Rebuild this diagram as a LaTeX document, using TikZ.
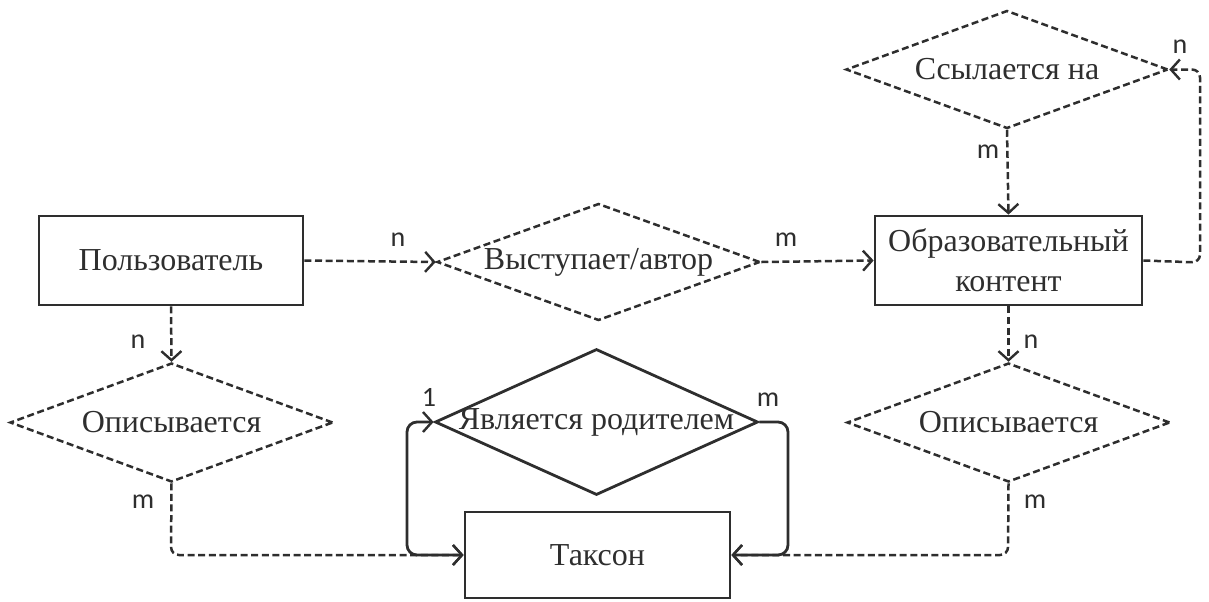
\documentclass[tikz,border=0pt]{standalone}
\usepackage{fontspec}
\setmainfont{Liberation Serif}
\newfontfamily\lblfont{Carlito}
\usetikzlibrary{shapes.geometric,arrows.meta}
\definecolor{ink}{HTML}{2E2E2E}
\tikzset{
  barb/.tip={Straight Barb[length=4.5pt,width=10pt,line width=1.2pt]},
  entity/.style={draw=ink, line width=1.4pt, rectangle, inner sep=0pt, text=ink,
    font=\fontsize{16}{20}\selectfont, align=center},
  rel/.style={draw=ink, line width=1.25pt, dash pattern=on 3.5pt off 1.8pt, diamond, inner sep=0pt},
  solidrel/.style={draw=ink, line width=1.4pt, diamond, inner sep=0pt},
  reltext/.style={text=ink, font=\fontsize{16}{20}\selectfont},
  conn/.style={draw=ink, line width=1.25pt, dash pattern=on 3.5pt off 1.8pt, rounded corners=4pt, -barb},
  sconn/.style={draw=ink, line width=1.4pt, rounded corners=5pt},
  card/.style={text=ink, font=\lblfont\fontsize{14}{15}\selectfont, inner sep=0pt}
}
\begin{document}
\begin{tikzpicture}[x=0.5pt,y=-0.5pt]
\useasboundingbox (0,0) rectangle (1209,601);
% entities
\node[entity, minimum width=132pt, minimum height=44.5pt] (user) at (171,260.5) {Пользователь};
\node[entity, minimum width=133.5pt, minimum height=44.5pt] (content) at (1008.5,260.5) {Образовательный\\контент};
\node[entity, minimum width=132.5pt, minimum height=43pt] (taxon) at (597.5,555) {Таксон};
% relationships
\node[rel, minimum width=161.5pt, minimum height=58.5pt, label={[reltext,name=authorT]center:Выступает/автор}] (author) at (598.5,262) {};
\node[rel, minimum width=161pt, minimum height=59pt, label={[reltext,name=refT]center:Ссылается на}] (ref) at (1007,69.5) {};
\node[rel, minimum width=161.5pt, minimum height=59.5pt, label={[reltext,name=descLT]center:Описывается}] (descL) at (171.5,422.5) {};
\node[rel, minimum width=161.5pt, minimum height=59.5pt, label={[reltext,name=descRT]center:Описывается}] (descR) at (1008.5,422.5) {};
\node[solidrel, minimum width=161.5pt, minimum height=73pt, label={[reltext,name=parentT]center:Является родителем}] (parent) at (596.5,422) {};
% connectors
\draw[conn] (user.east) -- (author.west);
\draw[conn] (author.east) -- (content.west);
\draw[conn] (ref.south) -- (content.north);
\draw[conn] (content.east) -- (1200,262.5) -- (1200,69.5) -- (ref.east);
\draw[conn] (user.south) -- (descL.north);
\draw[conn] (content.south) -- (descR.north);
\draw[conn] (descL.south) -- (171,555) -- (taxon.west);
\draw[conn] (descR.south) -- (1008,555) -- (taxon.east);
\draw[sconn, barb-barb] (parent.west) -- (407,422) -- (407,555) -- (taxon.west);
\draw[sconn, -barb] (parent.east) -- (788,422) -- (788,555) -- (taxon.east);
% cardinalities
\node[card] (c1) at (398,240) {n};
\node[card] (c2) at (786,240) {m};
\node[card] (c3) at (988,152) {m};
\node[card] (c4) at (1180,47) {n};
\node[card] (c5) at (138,342) {n};
\node[card] (c6) at (1031,342) {n};
\node[card] (c7) at (143,502) {m};
\node[card] (c8) at (1035,502) {m};
\node[card] (c9) at (429,397) {1};
\node[card] (c10) at (768,400) {m};
\end{tikzpicture}
\end{document}
